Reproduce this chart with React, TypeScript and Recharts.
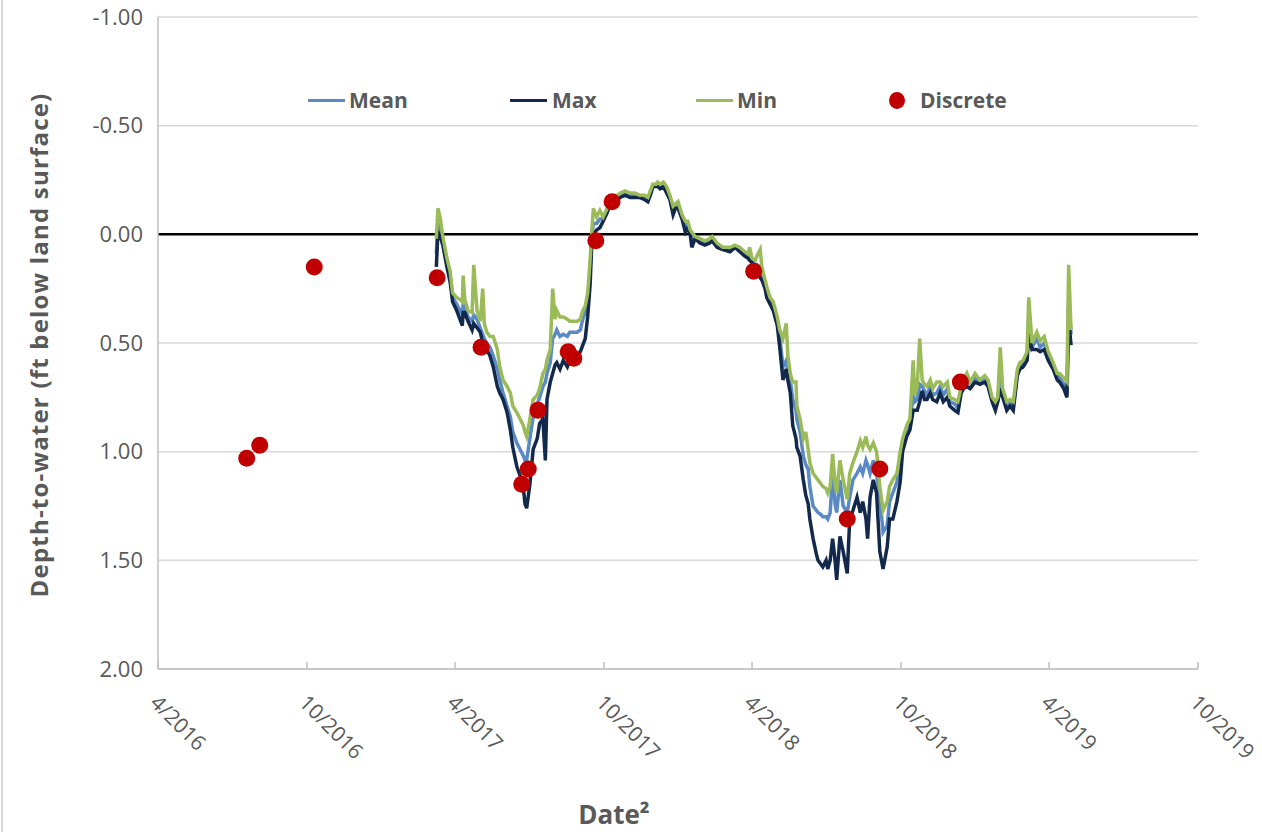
import React from 'react';
import { ComposedChart, Line, Scatter, XAxis, YAxis, CartesianGrid, ReferenceLine, Legend } from 'recharts';

// daily logger record (sampled), depth in ft below land surface
const dates = [
    '2017-03-09', '2017-03-11', '2017-03-14', '2017-03-17', '2017-03-22', '2017-03-26', '2017-03-29',
    '2017-04-03', '2017-04-07', '2017-04-10', '2017-04-11', '2017-04-13', '2017-04-17', '2017-04-22', '2017-04-24', '2017-04-28',
    '2017-05-02', '2017-05-05', '2017-05-07', '2017-05-10', '2017-05-14', '2017-05-18', '2017-05-23', '2017-05-26', '2017-05-30',
    '2017-06-04', '2017-06-08', '2017-06-11', '2017-06-16', '2017-06-20', '2017-06-24', '2017-06-26', '2017-06-28',
    '2017-07-02', '2017-07-06', '2017-07-11', '2017-07-14', '2017-07-18', '2017-07-21', '2017-07-23', '2017-07-27', '2017-07-30',
    '2017-08-02', '2017-08-04', '2017-08-08', '2017-08-12', '2017-08-17', '2017-08-20', '2017-08-24', '2017-08-29',
    '2017-09-02', '2017-09-05', '2017-09-08', '2017-09-11', '2017-09-14', '2017-09-16', '2017-09-18', '2017-09-22', '2017-09-26', '2017-09-30',
    '2017-10-05', '2017-10-08', '2017-10-15', '2017-10-21', '2017-10-27',
    '2017-11-02', '2017-11-08', '2017-11-14', '2017-11-20', '2017-11-24', '2017-11-28', '2017-11-30',
    '2017-12-04', '2017-12-06', '2017-12-09', '2017-12-13', '2017-12-17', '2017-12-21', '2017-12-25', '2017-12-28', '2017-12-31',
    '2018-01-05', '2018-01-09', '2018-01-12', '2018-01-15', '2018-01-17', '2018-01-21', '2018-01-27',
    '2018-02-02', '2018-02-08', '2018-02-11', '2018-02-17', '2018-02-24',
    '2018-03-05', '2018-03-11', '2018-03-17', '2018-03-23', '2018-03-27', '2018-03-29',
    '2018-04-01', '2018-04-05', '2018-04-07', '2018-04-11', '2018-04-13', '2018-04-17', '2018-04-19', '2018-04-23', '2018-04-27',
    '2018-05-02', '2018-05-05', '2018-05-09', '2018-05-13', '2018-05-15', '2018-05-18', '2018-05-21', '2018-05-25', '2018-05-26', '2018-05-30',
    '2018-06-03', '2018-06-06', '2018-06-09', '2018-06-11', '2018-06-15', '2018-06-19', '2018-06-21', '2018-06-25', '2018-06-27',
    '2018-07-01', '2018-07-03', '2018-07-06', '2018-07-09', '2018-07-12', '2018-07-14', '2018-07-18', '2018-07-22', '2018-07-27', '2018-07-30',
    '2018-08-03', '2018-08-08', '2018-08-12', '2018-08-15', '2018-08-19', '2018-08-21', '2018-08-24', '2018-08-28',
    '2018-09-01', '2018-09-05', '2018-09-09', '2018-09-14', '2018-09-17', '2018-09-21', '2018-09-26', '2018-09-30',
    '2018-10-03', '2018-10-08', '2018-10-12', '2018-10-16', '2018-10-18', '2018-10-21', '2018-10-24', '2018-10-27', '2018-10-30',
    '2018-11-02', '2018-11-06', '2018-11-09', '2018-11-14', '2018-11-18', '2018-11-22', '2018-11-27', '2018-11-30',
    '2018-12-06', '2018-12-10', '2018-12-14', '2018-12-17', '2018-12-21', '2018-12-25', '2018-12-31',
    '2019-01-06', '2019-01-12', '2019-01-16', '2019-01-21', '2019-01-25', '2019-01-28', '2019-01-31',
    '2019-02-03', '2019-02-08', '2019-02-12', '2019-02-16', '2019-02-21', '2019-02-24', '2019-02-28',
    '2019-03-05', '2019-03-07', '2019-03-11', '2019-03-17', '2019-03-21', '2019-03-26', '2019-03-31',
    '2019-04-06', '2019-04-11', '2019-04-14', '2019-04-19', '2019-04-23', '2019-04-25', '2019-04-28'
];

const minDepth = [
    0.02, -0.12, -0.07, 0.01, 0.11, 0.17, 0.27,
    0.29, 0.30, 0.31, 0.19, 0.30, 0.35, 0.36, 0.14, 0.35,
    0.40, 0.25, 0.41, 0.45, 0.47, 0.47, 0.53, 0.61, 0.67,
    0.70, 0.73, 0.79, 0.82, 0.85, 0.88, 0.91, 0.93,
    0.85, 0.76, 0.74, 0.71, 0.64, 0.62, 0.58, 0.53, 0.25,
    0.39, 0.35, 0.38, 0.38, 0.39, 0.40, 0.40, 0.40,
    0.39, 0.35, 0.33, 0.27, 0.12, -0.01, -0.12, -0.08, -0.11, -0.08,
    -0.12, -0.15, -0.17, -0.19, -0.20,
    -0.19, -0.19, -0.18, -0.18, -0.17, -0.21, -0.23,
    -0.23, -0.24, -0.23, -0.24, -0.22, -0.18, -0.13, -0.14, -0.15,
    -0.09, -0.06, -0.06, -0.02, -0.01, 0.01, 0.02,
    0.03, 0.02, 0.01, 0.04, 0.06,
    0.06, 0.05, 0.06, 0.08, 0.09, 0.06,
    0.11, 0.12, 0.10, 0.07, 0.15, 0.21, 0.24, 0.29, 0.31,
    0.38, 0.44, 0.48, 0.41, 0.56, 0.64, 0.68, 0.68, 0.79, 0.85,
    0.94, 0.91, 0.99, 1.05, 1.10, 1.12, 1.13, 1.15, 1.16,
    1.17, 1.19, 1.16, 1.01, 1.15, 1.19, 1.04, 1.13, 1.22, 1.10,
    1.05, 1.00, 0.95, 0.98, 0.93, 0.97, 0.99, 0.96,
    1.00, 1.16, 1.27, 1.23, 1.16, 1.13, 1.10, 1.00,
    0.94, 0.88, 0.85, 0.58, 0.74, 0.70, 0.48, 0.67, 0.69,
    0.70, 0.67, 0.71, 0.68, 0.68, 0.70, 0.68, 0.75,
    0.76, 0.77, 0.70, 0.67, 0.64, 0.68, 0.64,
    0.67, 0.65, 0.67, 0.75, 0.77, 0.75, 0.52,
    0.71, 0.77, 0.76, 0.77, 0.62, 0.59, 0.58,
    0.54, 0.29, 0.50, 0.45, 0.49, 0.47, 0.54,
    0.59, 0.64, 0.64, 0.66, 0.68, 0.14, 0.44
];

const meanDepth = [
    0.09, -0.05, -0.02, 0.03, 0.13, 0.20, 0.29,
    0.32, 0.35, 0.37, 0.32, 0.33, 0.38, 0.40, 0.37, 0.39,
    0.43, 0.46, 0.48, 0.50, 0.52, 0.56, 0.62, 0.67, 0.73,
    0.79, 0.84, 0.91, 0.96, 0.99, 1.02, 1.04, 1.04,
    0.94, 0.84, 0.78, 0.75, 0.70, 0.68, 0.64, 0.59, 0.48,
    0.46, 0.44, 0.47, 0.46, 0.47, 0.45, 0.45, 0.45,
    0.44, 0.39, 0.36, 0.31, 0.16, 0.01, -0.05, -0.05, -0.07, -0.07,
    -0.11, -0.14, -0.16, -0.18, -0.19,
    -0.18, -0.18, -0.17, -0.17, -0.16, -0.20, -0.22,
    -0.23, -0.23, -0.22, -0.23, -0.21, -0.17, -0.11, -0.13, -0.14,
    -0.08, -0.04, -0.05, -0.01, 0.02, 0.01, 0.03,
    0.04, 0.03, 0.02, 0.05, 0.06,
    0.07, 0.06, 0.07, 0.09, 0.10, 0.09,
    0.12, 0.14, 0.14, 0.15, 0.18, 0.23, 0.25, 0.30, 0.33,
    0.40, 0.47, 0.61, 0.58, 0.63, 0.67, 0.76, 0.81, 0.85, 0.91,
    1.02, 1.06, 1.08, 1.16, 1.25, 1.27, 1.28, 1.29, 1.30,
    1.30, 1.31, 1.28, 1.10, 1.24, 1.28, 1.13, 1.25, 1.28, 1.21,
    1.13, 1.10, 1.07, 1.10, 1.04, 1.06, 1.10, 1.04,
    1.10, 1.21, 1.37, 1.34, 1.23, 1.19, 1.14, 1.04,
    0.96, 0.90, 0.87, 0.74, 0.77, 0.76, 0.69, 0.70, 0.72,
    0.74, 0.70, 0.74, 0.73, 0.70, 0.74, 0.71, 0.77,
    0.78, 0.80, 0.71, 0.69, 0.67, 0.69, 0.66,
    0.68, 0.67, 0.69, 0.76, 0.79, 0.76, 0.64,
    0.73, 0.79, 0.77, 0.79, 0.64, 0.61, 0.59,
    0.56, 0.39, 0.52, 0.48, 0.52, 0.50, 0.56,
    0.61, 0.65, 0.66, 0.69, 0.71, 0.30, 0.46
];

const maxDepth = [
    0.15, -0.01, 0.01, 0.05, 0.15, 0.22, 0.31,
    0.35, 0.39, 0.42, 0.36, 0.36, 0.40, 0.44, 0.41, 0.43,
    0.45, 0.50, 0.53, 0.53, 0.56, 0.61, 0.70, 0.73, 0.76,
    0.82, 0.90, 0.98, 1.07, 1.11, 1.17, 1.24, 1.26,
    1.15, 0.99, 0.94, 0.87, 0.85, 1.04, 0.76, 0.68, 0.64,
    0.60, 0.59, 0.62, 0.58, 0.61, 0.58, 0.59, 0.56,
    0.54, 0.51, 0.48, 0.38, 0.23, 0.05, 0.00, -0.02, -0.03, -0.06,
    -0.10, -0.13, -0.15, -0.17, -0.18,
    -0.17, -0.17, -0.17, -0.16, -0.15, -0.19, -0.22,
    -0.22, -0.22, -0.21, -0.22, -0.19, -0.16, -0.09, -0.12, -0.12,
    -0.07, -0.01, -0.03, 0.00, 0.06, 0.02, 0.04,
    0.05, 0.04, 0.03, 0.06, 0.07,
    0.08, 0.06, 0.08, 0.10, 0.11, 0.12,
    0.13, 0.15, 0.16, 0.20, 0.21, 0.25, 0.29, 0.32, 0.35,
    0.42, 0.52, 0.67, 0.62, 0.67, 0.73, 0.88, 0.94, 0.98, 1.02,
    1.13, 1.20, 1.24, 1.31, 1.40, 1.47, 1.50, 1.52, 1.53,
    1.50, 1.54, 1.50, 1.40, 1.50, 1.59, 1.39, 1.46, 1.56, 1.31,
    1.27, 1.21, 1.28, 1.23, 1.31, 1.40, 1.21, 1.13,
    1.19, 1.46, 1.54, 1.44, 1.31, 1.31, 1.23, 1.14,
    1.00, 0.93, 0.90, 0.81, 0.81, 0.81, 0.77, 0.72, 0.76,
    0.76, 0.73, 0.76, 0.77, 0.73, 0.77, 0.75, 0.79,
    0.81, 0.82, 0.73, 0.71, 0.70, 0.71, 0.68,
    0.69, 0.68, 0.70, 0.77, 0.81, 0.77, 0.71,
    0.75, 0.81, 0.79, 0.81, 0.65, 0.62, 0.61,
    0.58, 0.46, 0.53, 0.53, 0.54, 0.53, 0.58,
    0.62, 0.67, 0.68, 0.71, 0.75, 0.39, 0.51
];

// discrete (manual) measurements
const discreteDates = [
    '2016-07-19', '2016-08-04', '2016-10-10', '2017-03-10', '2017-05-03', '2017-06-22', '2017-06-30', '2017-07-12',
    '2017-08-18', '2017-08-25', '2017-09-21', '2017-10-11', '2018-04-03', '2018-07-27', '2018-09-05', '2018-12-13'
];
const discreteDepth = [1.03, 0.97, 0.15, 0.20, 0.52, 1.15, 1.08, 0.81, 0.54, 0.57, 0.03, -0.15, 0.17, 1.31, 1.08, 0.68];

const xTickDates = ['2016-04-01', '2016-10-01', '2017-04-01', '2017-10-01', '2018-04-01', '2018-10-01', '2019-04-01', '2019-10-01'];
const yTicks = [-1, -0.5, 0, 0.5, 1, 1.5, 2];

const toTime = (s: string) => Date.parse(s + 'T00:00:00Z');

const lineData = dates.map((d, i) => ({
    t: toTime(d),
    mean: meanDepth[i],
    max: maxDepth[i],
    min: minDepth[i]
}));

const discreteData = discreteDates.map((d, i) => ({ t: toTime(d), discrete: discreteDepth[i] }));

const FONT = "'Open Sans', 'Noto Sans', sans-serif";
const TEXT = '#595959';

const DateTick = (props: any) => {
    const { x, y, payload } = props;
    const d = new Date(payload.value);
    const label = `${d.getUTCMonth() + 1}/${d.getUTCFullYear()}`;
    const ox = x - 9;
    const oy = y + 35;
    return (
        <g>
            <line x1={x} y1={y} x2={x} y2={y - 7} stroke="#bfbfbf" strokeWidth={1.5} />
            <text
                x={ox}
                y={oy}
                transform={`rotate(45, ${ox}, ${oy})`}
                textAnchor="start"
                fill={TEXT}
                fontSize={21}
                fontFamily={FONT}
            >
                {label}
            </text>
        </g>
    );
};

const legendItems = [
    { name: 'Mean', color: '#5A8AC6', x: 308, textX: 349, type: 'line' },
    { name: 'Max', color: '#13294B', x: 510, textX: 552, type: 'line' },
    { name: 'Min', color: '#9BBB59', x: 696, textX: 737, type: 'line' },
    { name: 'Discrete', color: '#C00000', x: 889, textX: 920, type: 'dot' }
];

const ChartLegend = () => (
    <div style={{ position: 'relative', width: 1262, height: 0 }}>
        {legendItems.map(item => (
            <React.Fragment key={item.name}>
                {item.type === 'line' ? (
                    <div style={{ position: 'absolute', left: item.x, top: 99, width: 37, height: 3, background: item.color }} />
                ) : (
                    <div style={{ position: 'absolute', left: item.x, top: 92, width: 16, height: 17, borderRadius: '50%', background: item.color }} />
                )}
                <div style={{
                    position: 'absolute', left: item.textX, top: 85, lineHeight: '30px',
                    fontFamily: FONT, fontWeight: 700, fontSize: 21, color: TEXT, whiteSpace: 'nowrap'
                }}>
                    {item.name}
                </div>
            </React.Fragment>
        ))}
    </div>
);

export default function App() {
    return (
        <div style={{ position: 'absolute', left: 0, top: 0, width: 1262, height: 832, background: '#fff', overflow: 'hidden' }}>
            <div style={{ position: 'absolute', left: 1, top: 0, width: 2, height: 832, background: '#d9d9d9' }} />
            <ComposedChart
                width={1262}
                height={832}
                data={lineData}
                margin={{ top: 17, right: 64, bottom: 63, left: 68 }}
            >
                <CartesianGrid horizontal vertical={false} stroke="#d9d9d9" strokeWidth={1.5} />
                <XAxis
                    dataKey="t"
                    type="number"
                    scale="time"
                    domain={[toTime('2016-04-01'), toTime('2019-10-01')]}
                    ticks={xTickDates.map(toTime)}
                    interval={0}
                    height={100}
                    tickLine={false}
                    tickSize={0}
                    tickMargin={0}
                    axisLine={{ stroke: '#bfbfbf', strokeWidth: 1.5 }}
                    tick={<DateTick />}
                    label={() => (
                        <text x={614} y={824} textAnchor="middle" fill={TEXT} fontSize={26} fontWeight={700} fontFamily={FONT}>
                            Date²
                        </text>
                    )}
                />
                <YAxis
                    type="number"
                    domain={[-1, 2]}
                    reversed
                    ticks={yTicks}
                    interval={0}
                    width={90}
                    tickLine={false}
                    tickSize={6}
                    tickMargin={9}
                    axisLine={{ stroke: '#bfbfbf', strokeWidth: 1.5 }}
                    tickFormatter={(v: number) => v.toFixed(2)}
                    tick={{ fill: TEXT, fontSize: 22, fontFamily: FONT }}
                    label={() => (
                        <text
                            x={38}
                            y={345}
                            transform="rotate(-90, 38, 345)"
                            textAnchor="middle"
                            dominantBaseline="central"
                            fill={TEXT}
                            fontSize={24}
                            letterSpacing={1.2}
                            fontWeight={700}
                            fontFamily={FONT}
                        >
                            Depth-to-water (ft below land surface)
                        </text>
                    )}
                />
                <ReferenceLine y={0} stroke="#000" strokeWidth={2.5} />
                <Legend
                    layout="horizontal"
                    verticalAlign="middle"
                    align="center"
                    content={() => <ChartLegend />}
                    wrapperStyle={{ position: 'absolute', left: 0, top: 0, width: 1262, height: 0 }}
                />
                <Line dataKey="mean" name="Mean" stroke="#5A8AC6" strokeWidth={3.5} dot={false} isAnimationActive={false} />
                <Line dataKey="max" name="Max" stroke="#13294B" strokeWidth={3.5} dot={false} isAnimationActive={false} />
                <Line dataKey="min" name="Min" stroke="#9BBB59" strokeWidth={3.5} dot={false} isAnimationActive={false} />
                <Scatter
                    data={discreteData}
                    dataKey="discrete"
                    name="Discrete"
                    fill="#C00000"
                    isAnimationActive={false}
                    shape={(p: any) => <circle cx={p.cx} cy={p.cy} r={8.5} fill="#C00000" />}
                />
            </ComposedChart>
        </div>
    );
}
